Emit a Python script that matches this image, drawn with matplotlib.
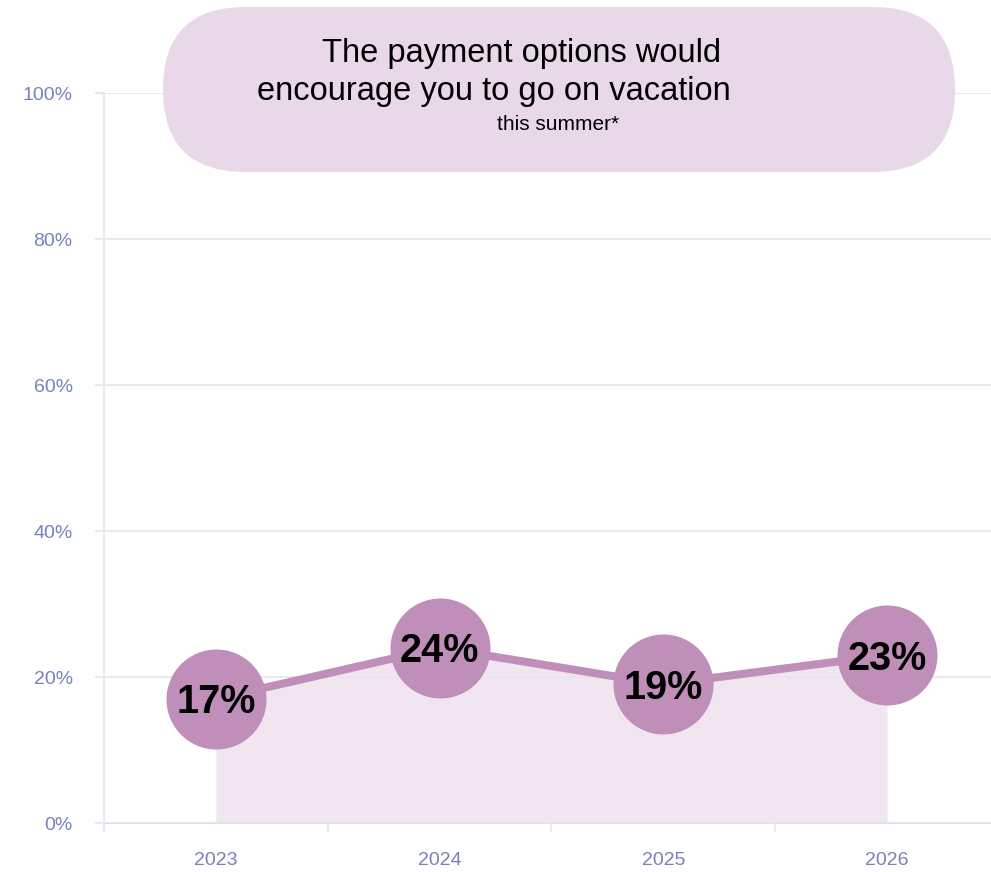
import matplotlib
matplotlib.use("Agg")
import matplotlib.pyplot as plt
from matplotlib.patches import FancyBboxPatch

plt.rcParams['font.family'] = ['Liberation Sans', 'DejaVu Sans']

years = ["2023", "2024", "2025", "2026"]
values = [17, 24, 19, 23]
labels = ["17%", "24%", "19%", "23%"]
yticks = [0, 20, 40, 60, 80, 100]
ytick_labels = ["0%", "20%", "40%", "60%", "80%", "100%"]
title_line1 = "The payment options would"
title_line2 = "encourage you to go on vacation"
title_line3 = "this summer*"

LINE = "#bf8fb9"
FILL = "#f1e6f0"
PILL = "#e9d9e8"
GRID = "#e6e6f0"
TICKC = "#7683b9"

fig = plt.figure(figsize=(9.91, 8.72), dpi=100)
ax = fig.add_axes([104/991, 1-823/872, 1-104/991, (823-93)/872])

x = list(range(len(years)))
ax.fill_between(x, 0, values, color=FILL, zorder=1, linewidth=0)
ax.plot(x, values, color=LINE, linewidth=5.8, marker='o', markersize=72,
        markeredgewidth=0, zorder=3, solid_capstyle='round')
for xi, v, lab in zip(x, values, labels):
    ax.annotate(lab, (xi, v), xytext=(0, -2.5), textcoords='offset points',
                ha='center', va='center', fontsize=28.5,
                fontweight='bold', color='black', zorder=4)

ax.set_xlim(-0.5, 3.465)
ax.set_ylim(0, 100)
ax.set_yticks(yticks)
ax.set_yticklabels(ytick_labels)
ax.grid(axis='y', color=GRID, linewidth=1.3, zorder=2)
ax.set_axisbelow(False)
for gl in ax.get_ygridlines():
    gl.set_zorder(2)

ax.set_xticks([-0.5, 0.5, 1.5, 2.5])
ax.set_xticklabels([])
ax.set_xticks(x, minor=True)
ax.set_xticklabels(years, minor=True)
ax.tick_params(axis='x', which='major', length=6.5, color=GRID, width=1.3)
ax.tick_params(axis='x', which='minor', length=0, pad=21, labelsize=14, labelcolor=TICKC)
ax.tick_params(axis='y', length=6.5, color=GRID, width=1.3, pad=16, labelsize=14, labelcolor=TICKC)

for s in ['top', 'right']:
    ax.spines[s].set_visible(False)
ax.spines['left'].set_color(GRID)
ax.spines['left'].set_linewidth(1.3)
ax.spines['bottom'].set_color("#dcdce8")
ax.spines['bottom'].set_linewidth(1.3)
ax.spines['bottom'].set_zorder(2)

# overlay for title pill
ov = fig.add_axes([0, 0, 1, 1], zorder=5)
ov.set_xlim(0, 991)
ov.set_ylim(872, 0)
ov.axis('off')
ov.patch.set_alpha(0)
pill = FancyBboxPatch((163, 7), 955-163, 165,
                      boxstyle="round,pad=0,rounding_size=82.5",
                      facecolor=PILL, edgecolor='none')
ov.add_patch(pill)
ov.text(522, 62, title_line1, ha='center', va='baseline', fontsize=23.5, color='black')
ov.text(494, 100, title_line2, ha='center', va='baseline', fontsize=23.5, color='black')
ov.text(558, 130, title_line3, ha='center', va='baseline', fontsize=15, color='black')

fig.savefig("out.png", dpi=100)
